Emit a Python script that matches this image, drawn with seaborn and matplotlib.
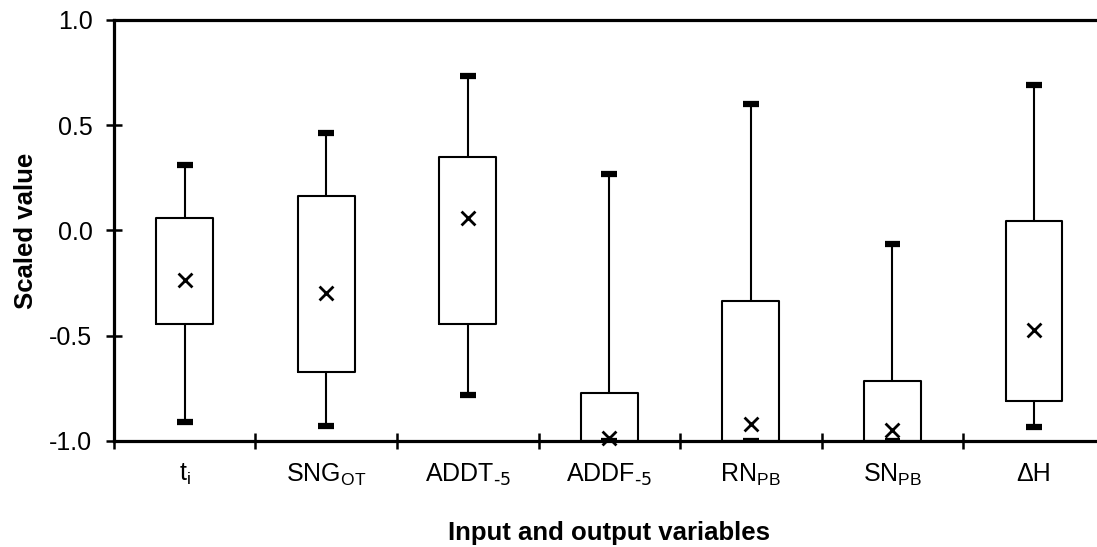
import numpy as np
import pandas as pd
import matplotlib
matplotlib.use("Agg")
import matplotlib.pyplot as plt
import seaborn as sns

categories = ["t_i", "SNG_OT", "ADDT_-5", "ADDF_-5", "RN_PB", "SN_PB", "dH"]
tick_labels = [r"t$_\mathregular{i}$", r"SNG$_\mathregular{OT}$", r"ADDT$_\text{-5}$",
               r"ADDF$_\text{-5}$", r"RN$_\mathregular{PB}$", r"SN$_\mathregular{PB}$", "ΔH"]
whisker_low = [-0.908, -0.929, -0.78, -1.0, -1.0, -1.0, -0.935]
box_low     = [-0.446, -0.672, -0.445, -1.0, -1.0, -1.0, -0.81]
box_high    = [0.061, 0.164, 0.35, -0.77, -0.335, -0.715, 0.045]
whisker_high = [0.313, 0.462, 0.733, 0.268, 0.602, -0.065, 0.69]
means       = [-0.235, -0.295, 0.06, -0.985, -0.92, -0.95, -0.475]

sns.set_style("white")
plt.rcParams["font.family"] = ["Liberation Sans", "DejaVu Sans"]
plt.rcParams["mathtext.default"] = "regular"
plt.rcParams["axes.unicode_minus"] = False
plt.rcParams["text.color"] = "black"
plt.rcParams["axes.labelcolor"] = "black"
plt.rcParams["xtick.color"] = "black"
plt.rcParams["ytick.color"] = "black"

stats = []
for c, lo, q1, q3, hi, m in zip(categories, whisker_low, box_low, box_high, whisker_high, means):
    stats.append(dict(label=c, whislo=lo, q1=q1, med=m, q3=q3, whishi=hi, fliers=[]))

fig = plt.figure(figsize=(10.97, 5.47), dpi=100)
ax = fig.add_axes([0.1039, 0.1938, 0.903, 0.7697])

ax.bxp(stats, positions=np.arange(len(categories)), widths=0.4, showfliers=False,
       patch_artist=False, capwidths=0.11, manage_ticks=False,
       boxprops=dict(color="black", linewidth=1.5),
       whiskerprops=dict(color="black", linewidth=1.5),
       capprops=dict(color="black", linewidth=4.5, solid_capstyle="butt"),
       medianprops=dict(visible=False))

df = pd.DataFrame({"cat": np.arange(len(categories)), "mean": means})
sns.scatterplot(data=df, x="cat", y="mean", marker="x", s=100, color="black",
                linewidth=2, ax=ax, clip_on=False, zorder=5)

ax.set_xlim(-0.5, 6.5)
ax.set_ylim(-1.0, 1.0)
ax.set_yticks([-1.0, -0.5, 0.0, 0.5, 1.0])
ax.set_yticklabels(["-1.0", "-0.5", "0.0", "0.5", "1.0"])
ax.set_xticks(np.arange(len(categories)))
ax.set_xticklabels(tick_labels)
ax.set_xticks(np.arange(-0.5, 7.0, 1.0), minor=True)
ax.tick_params(axis="x", which="major", bottom=True, length=0, labelsize=18, pad=15,
               labelcolor="black")
ax.tick_params(axis="x", which="minor", bottom=True, direction="inout", length=11, width=1.8, color="black")
ax.tick_params(axis="y", left=True, direction="inout", length=11, width=1.8, color="black",
               labelsize=18, pad=10, labelcolor="black")

for side in ["left", "bottom", "top"]:
    ax.spines[side].set_visible(True)
    ax.spines[side].set_color("black")
    ax.spines[side].set_linewidth(2.3)
ax.spines["right"].set_visible(False)

ax.set_xlabel("Input and output variables", fontsize=18.5, fontweight="bold", labelpad=24, color="black")
ax.set_ylabel("Scaled value", fontsize=18.5, fontweight="bold", labelpad=8, color="black")

fig.savefig("out.png", dpi=100)
